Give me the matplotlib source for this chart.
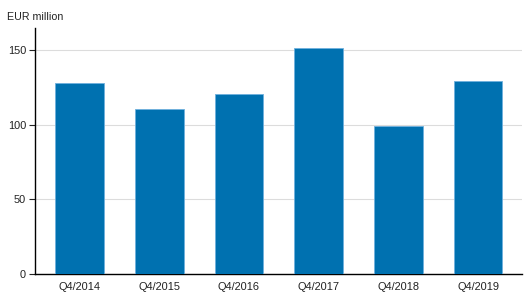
import numpy as np
import matplotlib.pyplot as plt

plt.rcParams["font.family"] = ["Liberation Sans", "DejaVu Sans"]

quarters = ["Q4/2014", "Q4/2015", "Q4/2016", "Q4/2017", "Q4/2018", "Q4/2019"]
values = [128.4, 110.5, 120.5, 151.6, 99.1, 129.7]
y_ticks = [0, 50, 100, 150]


def main():
    fig = plt.figure(figsize=(5.29, 3.02), dpi=100)
    ax = fig.add_axes([34.5 / 529, 28 / 302, 487.5 / 529, 246 / 302])

    x = np.arange(len(quarters))
    ax.bar(
        x,
        values,
        width=0.61,
        color="#0071b0",
        edgecolor="#6fb0dd",
        linewidth=0.6,
        zorder=3
    )

    ax.set_xlim(-0.565, 5.55)
    ax.set_ylim(0, 165)
    ax.set_xticks(x)
    ax.set_xticklabels(quarters)
    ax.set_yticks(y_ticks)

    ax.grid(axis="y", color="#dcdcdc", linewidth=0.8, zorder=0)
    ax.tick_params(axis="x", length=0, labelsize=7.9, pad=5.5, colors="#222222")
    ax.tick_params(axis="y", length=4, width=0.8, labelsize=7.9, pad=2, colors="#222222")

    for side in ["top", "right"]:
        ax.spines[side].set_visible(False)
    ax.spines["left"].set_linewidth(1.0)
    ax.spines["bottom"].set_linewidth(1.0)

    fig.text(7 / 529, 1 - 17 / 302, "EUR million", fontsize=7.7, color="#222222", va="center")

    fig.savefig("out.png", dpi=100)
    plt.close(fig)


if __name__ == "__main__":
    main()
